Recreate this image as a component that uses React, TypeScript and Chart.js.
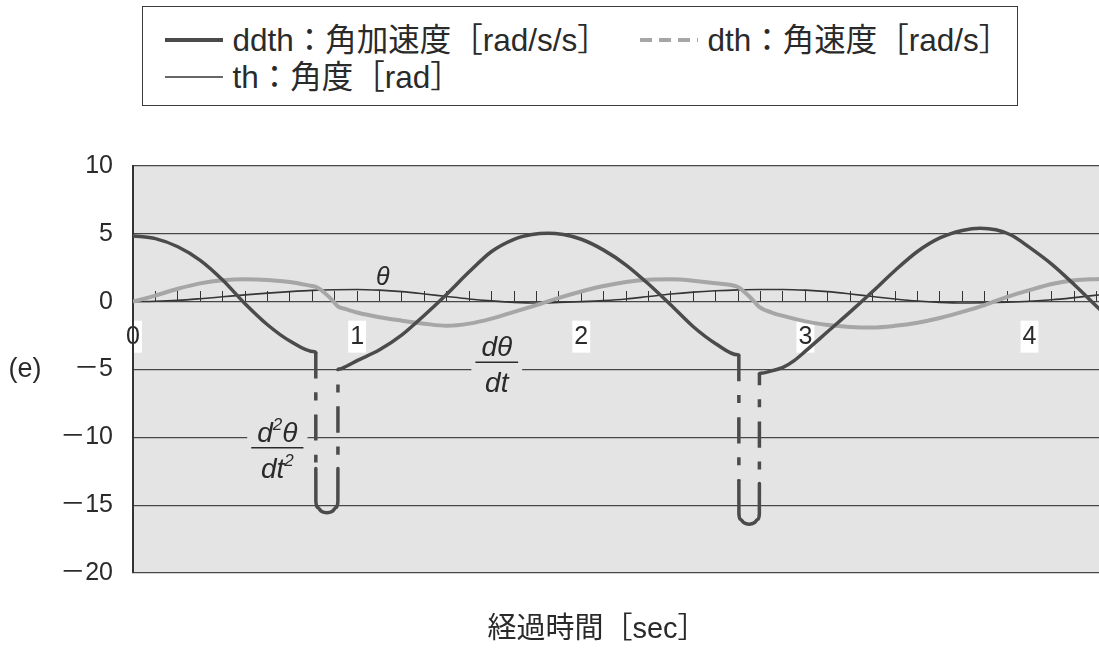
import React, { useEffect, useRef } from 'react';
import { Chart, registerables } from 'chart.js';

Chart.register(...registerables);

// ---- series: time [sec] and value ----
// ddth : angular acceleration [rad/s/s]
const DDTH_T = [
  0.0, 0.1, 0.2, 0.3, 0.4, 0.5, 0.6, 0.7, 0.81, 0.8155,
  0.8157, 0.8159, 0.8226, 0.8405, 0.865, 0.8895, 0.9074, 0.9141, 0.9143, 0.9145,
  0.92, 0.95, 1.0, 1.1, 1.2, 1.3, 1.4, 1.5, 1.6, 1.7, 1.78, 1.85, 1.92, 2.0, 2.1, 2.2, 2.3, 2.4,
  2.5, 2.6, 2.698, 2.703,
  2.7032, 2.7034, 2.7092, 2.726, 2.749, 2.772, 2.7888, 2.7946, 2.7948, 2.795,
  2.8, 2.85, 2.9, 2.95, 3.0, 3.1, 3.2, 3.3, 3.4, 3.5, 3.6, 3.7, 3.78, 3.85, 3.92, 4.0, 4.1, 4.2, 4.3, 4.35,
];
const DDTH_V = [
  4.85, 4.65, 4.05, 3.05, 1.6, -0.15, -1.7, -2.9, -3.7, -3.75,
  -12.3, -14.75, -15.16, -15.45, -15.56, -15.45, -15.16, -14.75, -12.3, -5.0,
  -4.97, -4.78, -4.35, -3.55, -2.45, -1.0, 0.55, 2.2, 3.7, 4.6, 4.95, 5.05, 4.95, 4.6, 3.8, 2.7, 1.3, -0.25,
  -1.85, -3.1, -3.92, -3.95,
  -13.2, -15.65, -16.03, -16.3, -16.4, -16.3, -16.03, -15.65, -13.4, -5.3,
  -5.28, -5.1, -4.85, -4.35, -3.65, -2.2, -0.75, 0.75, 2.3, 3.7, 4.7, 5.25, 5.42, 5.3, 4.9, 4.0, 2.75, 1.25, -0.35, -1.15,
];
// segments of ddth that start at these times are the dashed jumps
const DDTH_DASHED_FROM = [0.8155, 0.9143, 2.703, 2.7948];

// dth : angular velocity [rad/s]
const DTH_T = [
  0.0, 0.1, 0.2, 0.3, 0.4, 0.5, 0.6, 0.7, 0.8, 0.8155, 0.84, 0.865, 0.89, 0.914, 0.95,
  1.0, 1.1, 1.2, 1.3, 1.4, 1.5, 1.6, 1.7, 1.8, 1.9, 2.0, 2.1, 2.2, 2.3, 2.4, 2.5, 2.6,
  2.703, 2.725, 2.749, 2.772, 2.795, 2.85, 2.9, 3.0, 3.1, 3.2, 3.3, 3.4, 3.5, 3.6, 3.7,
  3.8, 3.9, 4.0, 4.1, 4.2, 4.3, 4.35,
];
const DTH_V = [
  0.0, 0.45, 0.95, 1.35, 1.58, 1.65, 1.6, 1.45, 1.15, 1.1, 0.85, 0.5, 0.1, -0.35, -0.55,
  -0.8, -1.15, -1.4, -1.62, -1.78, -1.62, -1.25, -0.75, -0.25, 0.28, 0.75, 1.15, 1.45, 1.62, 1.65, 1.55, 1.35,
  1.05, 0.75, 0.4, 0.0, -0.4, -0.8, -1.05, -1.45, -1.72, -1.86, -1.9, -1.78, -1.55, -1.2, -0.75,
  -0.25, 0.35, 0.85, 1.3, 1.58, 1.66, 1.68,
];

// th : angle [rad]
const TH_T = [
  0.0, 0.1, 0.2, 0.3, 0.4, 0.5, 0.6, 0.7, 0.8, 0.9, 1.0, 1.1, 1.2, 1.3, 1.4, 1.5, 1.6, 1.7,
  1.8, 1.9, 2.0, 2.1, 2.2, 2.3, 2.4, 2.5, 2.6, 2.7, 2.8, 2.9, 3.0, 3.1, 3.2, 3.3, 3.4, 3.5,
  3.6, 3.7, 3.8, 3.9, 4.0, 4.1, 4.2, 4.3, 4.35,
];
const TH_V = [
  0.0, 0.03, 0.1, 0.22, 0.36, 0.5, 0.63, 0.74, 0.83, 0.88, 0.9, 0.85, 0.74, 0.57, 0.38, 0.2, 0.06, -0.05,
  -0.1, -0.06, 0.0, 0.08, 0.2, 0.38, 0.56, 0.7, 0.8, 0.87, 0.9, 0.9, 0.85, 0.74, 0.57, 0.38, 0.2, 0.05,
  -0.05, -0.1, -0.08, -0.04, 0.03, 0.14, 0.3, 0.48, 0.56,
];

// ---- axes ----
const Y_MIN = -20;
const Y_MAX = 10;
const Y_STEP = 5;
const X_MIN = 0;
const X_MAX = 4.31;
const X_MINOR_STEP = 0.1;

// ---- texts ----
const DDTH_LABEL = 'ddth：角加速度［rad/s/s］';
const DTH_LABEL = 'dth：角速度［rad/s］';
const TH_LABEL = 'th：角度［rad］';
const X_TITLE = '経過時間［sec］';
const PANEL_LABEL = '(e)';
const MINUS = '\uFF0D';

type Part = { text: string; sup?: boolean };
type Note =
  | { kind: 'text'; parts: Part[]; t: number; v: number }
  | { kind: 'frac'; num: Part[]; den: Part[]; t: number; v: number };

// curve names written inside the plot (t, v = data position of the text / fraction bar)
const NOTES: Note[] = [
  { kind: 'text', parts: [{ text: 'θ' }], t: 1.115, v: 1.22 },
  { kind: 'frac', num: [{ text: 'dθ' }], den: [{ text: 'dt' }], t: 1.623, v: -4.46 },
  {
    kind: 'frac',
    num: [{ text: 'd' }, { text: '2', sup: true }, { text: 'θ' }],
    den: [{ text: 'dt' }, { text: '2', sup: true }],
    t: 0.644,
    v: -10.76,
  },
];

const LATIN = '"Liberation Sans", Arial, Helvetica, sans-serif';
const MIXED = '"Liberation Sans", "Noto Sans CJK JP", sans-serif';
const INK = '#2a2a2a';
const PLOT_BG = '#e4e4e4';
const GRID = '#474747';

const C_DDTH = '#4b4b4b';
const C_DTH = '#a6a6a6';
const C_TH = '#363636';

const JUMP_DASH = [26, 14, 8, 14];

const toPoints = (ts: number[], vs: number[]) => ts.map((t, i) => ({ x: t, y: vs[i] }));
const isWhole = (v: number) => Math.abs(v - Math.round(v)) < 1e-6;
const isDashedJump = (c: any) => DDTH_DASHED_FROM.some((t) => Math.abs(c.p0.parsed.x - t) < 1e-6);

const LEGEND_ITEMS = [
  { label: DDTH_LABEL, color: C_DDTH, width: 4, dash: undefined as string | undefined, x: 165, y: 40 },
  { label: DTH_LABEL, color: C_DTH, width: 4, dash: '12 7', x: 640, y: 40 },
  { label: TH_LABEL, color: C_TH, width: 1.6, dash: undefined as string | undefined, x: 165, y: 77 },
];
const LEGEND_BOX = { left: 142, top: 6, width: 876, height: 100 };

function drawParts(ctx: CanvasRenderingContext2D, parts: Part[], cx: number, baseY: number, size: number) {
  const fontFor = (p: Part) => `italic ${p.sup ? Math.round(size * 0.6) : size}px ${LATIN}`;
  const widths = parts.map((p) => {
    ctx.font = fontFor(p);
    return ctx.measureText(p.text).width;
  });
  const total = widths.reduce((a, b) => a + b, 0);
  let x = cx - total / 2;
  parts.forEach((p, i) => {
    ctx.font = fontFor(p);
    ctx.fillText(p.text, x, p.sup ? baseY - size * 0.4 : baseY);
    x += widths[i];
  });
  return total;
}

const plotBackground = {
  id: 'plotBackground',
  beforeDraw(chart: any) {
    const { ctx, chartArea } = chart;
    ctx.save();
    ctx.fillStyle = PLOT_BG;
    ctx.fillRect(chartArea.left, chartArea.top, chartArea.right - chartArea.left, chartArea.bottom - chartArea.top);
    ctx.restore();
  },
};

const curveNotes = {
  id: 'curveNotes',
  afterDatasetsDraw(chart: any) {
    const { ctx } = chart;
    const xs = chart.scales.x;
    const ys = chart.scales.y;
    const size = 28;
    ctx.save();
    ctx.fillStyle = INK;
    ctx.textAlign = 'left';
    ctx.textBaseline = 'alphabetic';
    NOTES.forEach((n) => {
      const cx = xs.getPixelForValue(n.t);
      const cy = ys.getPixelForValue(n.v);
      if (n.kind === 'text') {
        drawParts(ctx, n.parts, cx, cy, 25);
        return;
      }
      // measure both lines to size the bar
      const measure = (parts: Part[]) =>
        parts.reduce((w, p) => {
          ctx.font = `italic ${p.sup ? Math.round(size * 0.6) : size}px ${LATIN}`;
          return w + ctx.measureText(p.text).width;
        }, 0);
      const barW = Math.max(measure(n.num), measure(n.den)) + 12;
      ctx.fillStyle = PLOT_BG;
      ctx.fillRect(cx - barW / 2 - 4, cy - 27, barW + 8, 62);
      ctx.fillStyle = INK;
      drawParts(ctx, n.num, cx, cy - 6, size);
      drawParts(ctx, n.den, cx, cy + 30, size);
      ctx.strokeStyle = INK;
      ctx.lineWidth = 1.5;
      ctx.beginPath();
      ctx.moveTo(cx - barW / 2, cy);
      ctx.lineTo(cx + barW / 2, cy);
      ctx.stroke();
    });
    ctx.restore();
  },
};

const outerTexts = {
  id: 'outerTexts',
  afterDraw(chart: any) {
    const { ctx, chartArea } = chart;
    ctx.save();
    ctx.fillStyle = INK;
    ctx.textAlign = 'center';
    ctx.textBaseline = 'middle';
    ctx.font = `27px ${LATIN}`;
    ctx.fillText(PANEL_LABEL, 25, (chartArea.top + chartArea.bottom) / 2);
    ctx.font = `29px ${MIXED}`;
    ctx.fillText(X_TITLE, (chartArea.left + chartArea.right) / 2 - 19, 630);
    ctx.restore();
  },
};

function Legend() {
  return (
    <div
      style={{
        position: 'absolute',
        left: LEGEND_BOX.left,
        top: LEGEND_BOX.top,
        width: LEGEND_BOX.width,
        height: LEGEND_BOX.height,
        boxSizing: 'border-box',
        border: '1.5px solid #3a3a3a',
        background: '#fff',
      }}
    >
      {LEGEND_ITEMS.map((it) => (
        <div
          key={it.label}
          style={{
            position: 'absolute',
            left: it.x - LEGEND_BOX.left - 1.5,
            top: it.y - LEGEND_BOX.top - 1.5 - 20,
            height: 40,
            display: 'flex',
            alignItems: 'center',
            whiteSpace: 'nowrap',
          }}
        >
          <svg width={58} height={10} style={{ display: 'block' }}>
            <line x1={0} y1={5} x2={58} y2={5} stroke={it.color} strokeWidth={it.width} strokeDasharray={it.dash} />
          </svg>
          <span style={{ marginLeft: 10, fontFamily: MIXED, fontSize: 31.5, lineHeight: '40px', color: INK }}>
            {it.label}
          </span>
        </div>
      ))}
    </div>
  );
}

export default function App() {
  const canvasRef = useRef<HTMLCanvasElement | null>(null);

  useEffect(() => {
    const canvas = canvasRef.current;
    if (!canvas) return;
    const chart = new Chart(canvas, {
      type: 'line',
      data: {
        datasets: [
          {
            label: DDTH_LABEL,
            data: toPoints(DDTH_T, DDTH_V),
            borderColor: C_DDTH,
            borderWidth: 3.5,
            pointRadius: 0,
            cubicInterpolationMode: 'monotone',
            order: 0,
            segment: {
              borderDash: (c: any) => (isDashedJump(c) ? JUMP_DASH : undefined),
              borderDashOffset: (c: any) => (isDashedJump(c) && c.p1.parsed.y > c.p0.parsed.y ? 26 : undefined),
              borderCapStyle: (c: any) => (isDashedJump(c) ? 'butt' : 'round'),
            },
          },
          {
            label: DTH_LABEL,
            data: toPoints(DTH_T, DTH_V),
            borderColor: C_DTH,
            borderWidth: 4,
            pointRadius: 0,
            cubicInterpolationMode: 'monotone',
            order: 1,
          },
          {
            label: TH_LABEL,
            data: toPoints(TH_T, TH_V),
            borderColor: C_TH,
            borderWidth: 1.6,
            pointRadius: 0,
            cubicInterpolationMode: 'monotone',
            order: 2,
          },
        ],
      },
      options: {
        animation: false,
        responsive: false,
        devicePixelRatio: 1,
        layout: { padding: { top: 166, bottom: 79, left: 0, right: 0 } },
        plugins: {
          legend: { display: false },
          tooltip: { enabled: false },
        },
        scales: {
          x: {
            type: 'linear',
            min: X_MIN,
            max: X_MAX,
            position: { y: 0 } as any,
            afterFit: (s: any) => {
              // the axis sits inside the plot, so it needs no side room
              s.paddingLeft = 0;
              s.paddingRight = 0;
            },
            grid: {
              drawOnChartArea: false,
              drawTicks: true,
              tickLength: -11,
              tickColor: '#333',
              tickWidth: 1,
            },
            border: { display: true, color: GRID, width: 1 },
            ticks: {
              stepSize: X_MINOR_STEP,
              autoSkip: false,
              includeBounds: false,
              maxRotation: 0,
              padding: 31,
              color: INK,
              font: { family: LATIN, size: 25 },
              callback: (v: any) => (isWhole(Number(v)) ? String(Math.round(Number(v))) : ''),
              showLabelBackdrop: (c: any) => isWhole(c.tick.value),
              backdropColor: '#ffffff',
              backdropPadding: { top: 1, bottom: 1, left: 2, right: 2 },
            } as any,
          },
          y: {
            type: 'linear',
            min: Y_MIN,
            max: Y_MAX,
            afterFit: (s: any) => {
              s.width = 133;
            },
            grid: { color: GRID, lineWidth: 1.2, drawTicks: false },
            border: { display: true, color: '#333', width: 2 },
            ticks: {
              stepSize: Y_STEP,
              padding: 20,
              color: INK,
              font: { family: MIXED, size: 25 },
              callback: (v: any) => (Number(v) < 0 ? MINUS + Math.abs(Number(v)) : String(v)),
            },
          },
        },
      },
      plugins: [plotBackground, curveNotes, outerTexts],
    });
    return () => chart.destroy();
  }, []);

  return (
    <div
      style={{
        position: 'fixed',
        left: 0,
        top: 0,
        width: 1099,
        height: 652,
        background: '#fff',
        overflow: 'hidden',
      }}
    >
      <canvas ref={canvasRef} width={1099} height={652} style={{ position: 'absolute', left: 0, top: 0 }} />
      <Legend />
    </div>
  );
}
